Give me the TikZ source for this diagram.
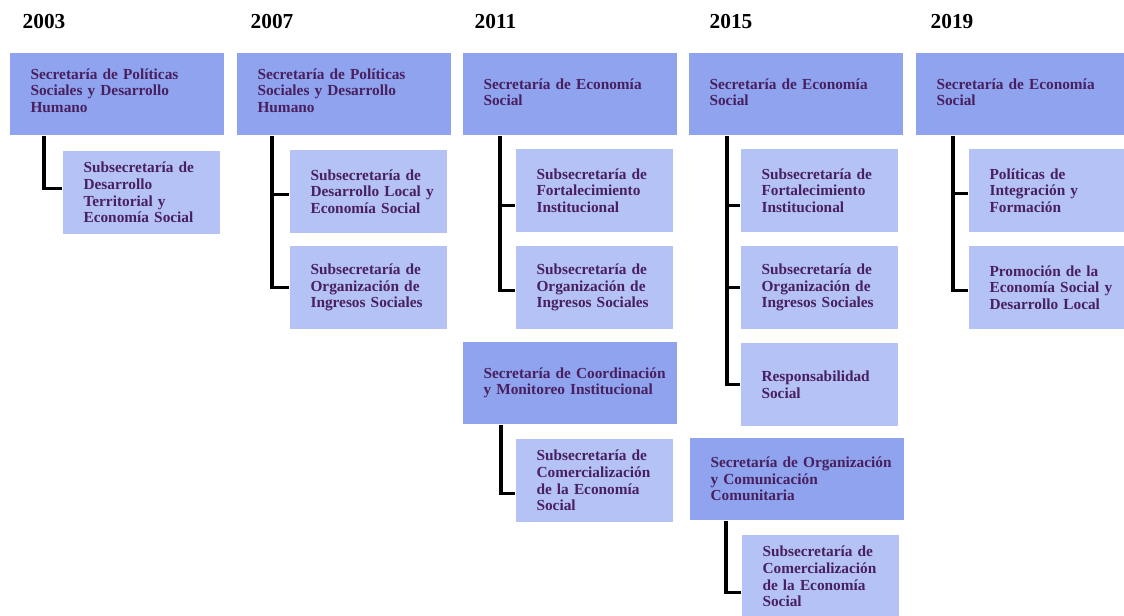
\documentclass[tikz,border=0pt]{standalone}
\usepackage{fontspec}
\setmainfont{Liberation Serif}
\definecolor{secfill}{HTML}{8FA3EE}
\definecolor{subfill}{HTML}{B4C2F5}
\definecolor{orgtext}{HTML}{48205F}
\newcommand{\pxu}{0.75pt}
\tikzset{
  secbox/.style={anchor=north west, draw=white, line width=0.8pt, fill=secfill, text=orgtext,
    font=\bfseries\fontsize{11.5}{12.4}\selectfont, minimum width=161.25pt, minimum height=62.25pt,
    inner xsep=6pt, text width=149.25pt, align=left, execute at begin node={\leftskip=9.75pt}},
  subbox/.style={secbox, fill=subfill, minimum width=118.5pt, minimum height=63pt, text width=106.5pt},
  link/.style={draw=black, line width=2.5pt},
  yearlabel/.style={anchor=base west, font=\bfseries\fontsize{16}{18}\selectfont}
}

\begin{document}
\begin{tikzpicture}[x=0.75pt, y=-0.75pt]
  \useasboundingbox (0,0) rectangle (1124,615);

  % years
  \node[yearlabel] (y03) at (18,28) {2003};
  \node[yearlabel] (y07) at (246,28) {2007};
  \node[yearlabel] (y11) at (470,28) {2011};
  \node[yearlabel] (y15) at (705,28) {2015};
  \node[yearlabel] (y19) at (926,28) {2019};

  % 2003
  \node[secbox] (s03) at (9,52) {Secretaría de Políticas\\Sociales y Desarrollo\\Humano\vphantom{p}\vspace{3pt}};
  \node[subbox] (b03) at (62,150) {Subsecretaría de\\Desarrollo\\Territorial y\\Economía Social};

  % 2007
  \node[secbox] (s07) at (236,52) {Secretaría de Políticas\\Sociales y Desarrollo\\Humano\vphantom{p}\vspace{3pt}};
  \node[subbox] (b07a) at (289,149) {Subsecretaría de\\Desarrollo Local y\\Economía Social};
  \node[subbox] (b07b) at (289,245) {Subsecretaría de\\Organización de\\Ingresos Sociales};

  % 2011
  \node[secbox] (s11) at (462,52) {Secretaría de Economía\\Social\vspace{3pt}};
  \node[subbox] (b11a) at (515,148) {Subsecretaría de\\Fortalecimiento\\Institucional};
  \node[subbox] (b11b) at (515,245) {Subsecretaría de\\Organización de\\Ingresos Sociales};
  \node[secbox] (t11) at (462,341) {Secretaría de Coordinación\\y Monitoreo Institucional};
  \node[subbox] (c11) at (515,438) {Subsecretaría de\\Comercialización\\de la Economía\\Social};

  % 2015
  \node[secbox] (s15) at (688,52) {Secretaría de Economía\\Social\vspace{3pt}};
  \node[subbox] (b15a) at (740,148) {Subsecretaría de\\Fortalecimiento\\Institucional};
  \node[subbox] (b15b) at (740,245) {Subsecretaría de\\Organización de\\Ingresos Sociales};
  \node[subbox] (b15c) at (740,342) {Responsabilidad\\Social};
  \node[secbox] (t15) at (689,437) {Secretaría de Organización\\y Comunicación\\Comunitaria};
  \node[subbox] (c15) at (741,534) {Subsecretaría de\\Comercialización\\de la Economía\\Social};

  % 2019
  \node[secbox] (s19) at (915,52) {Secretaría de Economía\\Social\vspace{3pt}};
  \node[subbox] (b19a) at (968,148) {Políticas de\\Integración y\\Formación};
  \node[subbox] (b19b) at (968,245) {Promoción de la\\Economía Social y\\Desarrollo Local};

  % connectors
  \draw[link] ([xshift=35*\pxu]s03.south west) |- ([yshift=4*\pxu]b03.west);
  \draw[link] ([xshift=36*\pxu]s07.south west) |- ([yshift=-3*\pxu]b07a.west);
  \draw[link] ([xshift=36*\pxu]s07.south west) |- (b07b.west);
  \draw[link] ([xshift=38*\pxu]s11.south west) |- ([yshift=-15*\pxu]b11a.west);
  \draw[link] ([xshift=38*\pxu]s11.south west) |- ([yshift=-3*\pxu]b11b.west);
  \draw[link] ([xshift=39*\pxu]t11.south west) |- ([yshift=-13*\pxu]c11.west);
  \draw[link] ([xshift=39*\pxu]s15.south west) |- ([yshift=-15*\pxu]b15a.west);
  \draw[link] ([xshift=39*\pxu]s15.south west) |- (b15b.west);
  \draw[link] ([xshift=39*\pxu]s15.south west) |- (b15c.west);
  \draw[link] ([xshift=37*\pxu]t15.south west) |- ([yshift=-16*\pxu]c15.west);
  \draw[link] ([xshift=38*\pxu]s19.south west) |- ([yshift=-3*\pxu]b19a.west);
  \draw[link] ([xshift=38*\pxu]s19.south west) |- ([yshift=-3*\pxu]b19b.west);
\end{tikzpicture}
\end{document}
